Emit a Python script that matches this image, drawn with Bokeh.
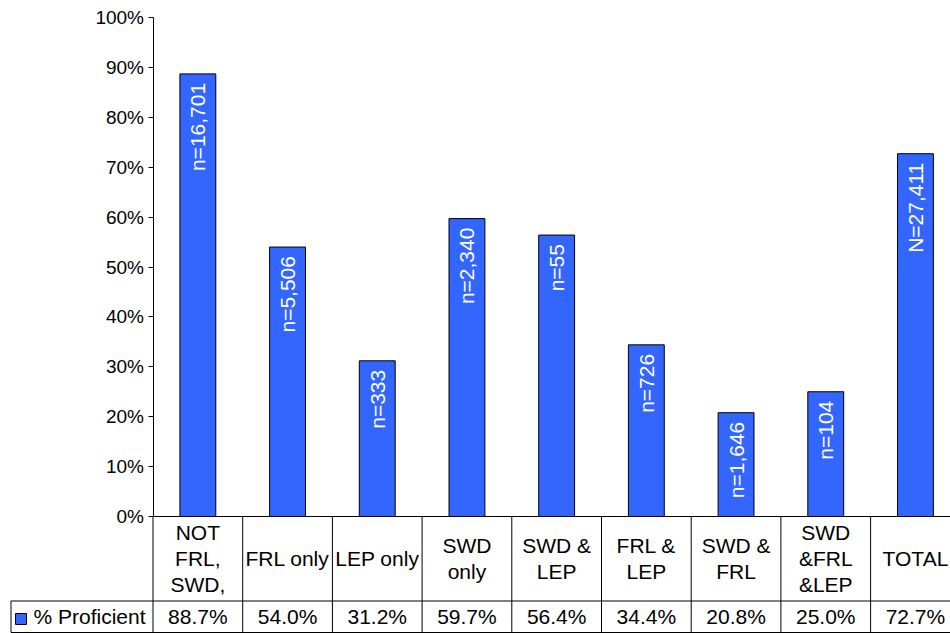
import math
from bokeh.plotting import figure
from bokeh.models import Range1d, LinearAxis, FixedTicker, PrintfTickFormatter, ColumnDataSource
from bokeh.core.properties import value
from bokeh.embed import file_html
from bokeh.resources import INLINE

# ---- data ----
categories = ["NOT\nFRL,\nSWD,", "FRL only", "LEP only", "SWD\nonly", "SWD &\nLEP",
              "FRL &\nLEP", "SWD &\nFRL", "SWD\n&FRL\n&LEP", "TOTAL"]
pct_proficient = [88.7, 54.0, 31.2, 59.7, 56.4, 34.4, 20.8, 25.0, 72.7]
n_labels = ["n=16,701", "n=5,506", "n=333", "n=2,340", "n=55", "n=726",
            "n=1,646", "n=104", "N=27,411"]
series_name = "% Proficient"
y_ticks = [0, 10, 20, 30, 40, 50, 60, 70, 80, 90, 100]

# ---- layout constants ----
W, H = 950, 633
PX_X = 89.7          # px per category
PX_Y = 4.99          # px per percent
AXIS_PX = 152.5      # axis position from figure left
ZERO_PX = 516        # zero line from figure top

x0 = -AXIS_PX / PX_X
x1 = (W - AXIS_PX) / PX_X
y1 = ZERO_PX / PX_Y
y0 = -(H - ZERO_PX) / PX_Y

y_row = -(600.5 - ZERO_PX) / PX_Y
y_bot = -(632 - ZERO_PX) / PX_Y
x_leg = (10.5 - AXIS_PX) / PX_X

FONT = value("Liberation Sans")
BAR_COLOR = "#3366FF"

p = figure(width=W, height=H, output_backend="svg", toolbar_location=None,
           x_axis_type=None, y_axis_type=None,
           x_range=Range1d(x0, x1), y_range=Range1d(y0, y1),
           min_border=0, min_border_left=0, min_border_right=0,
           min_border_top=0, min_border_bottom=0)
p.outline_line_color = None
p.xgrid.visible = False
p.ygrid.visible = False
p.background_fill_color = "white"
p.border_fill_color = "white"

n = len(categories)
xs = [i + 0.5 for i in range(n)]

src = ColumnDataSource(dict(x=xs, top=pct_proficient, lab=n_labels, cat=categories,
                            val=[f"{v:.1f}%" for v in pct_proficient]))

p.vbar(x="x", top="top", bottom=0, width=0.4, source=src,
       fill_color=BAR_COLOR, line_color="black", line_width=1)

# bar inner labels
p.text(x="x", y="top", text="lab", source=src, angle=math.pi / 2,
       text_align="right", text_baseline="middle", y_offset=9,
       text_color="white", text_font=FONT, text_font_size="21px")

# y axis
yaxis = LinearAxis(fixed_location=0, bounds=(0, 100),
                   ticker=FixedTicker(ticks=y_ticks),
                   formatter=PrintfTickFormatter(format="%d%%"))
yaxis.axis_line_color = "black"
yaxis.major_tick_line_color = "black"
yaxis.major_tick_out = 5
yaxis.major_tick_in = 0
yaxis.minor_tick_line_color = None
yaxis.major_label_standoff = 4
yaxis.major_label_text_font = "Liberation Sans"
yaxis.major_label_text_font_size = "19px"
yaxis.major_label_text_color = "black"
p.add_layout(yaxis, "left")

# data table grid lines
seg_x0 = [0, x_leg, x_leg, 0, x_leg] + [float(i) for i in range(1, n)]
seg_x1 = [x1 + 1, x1 + 1, x1 + 1, 0, x_leg] + [float(i) for i in range(1, n)]
seg_y0 = [0, y_row, y_bot, 0, y_row] + [0] * (n - 1)
seg_y1 = [0, y_row, y_bot, y_bot, y_bot] + [y_bot] * (n - 1)
p.segment(x0=seg_x0, y0=seg_y0, x1=seg_x1, y1=seg_y1, line_color="black", line_width=1)

# category labels
p.text(x="x", y=y_row / 2, text="cat", source=src, text_align="center",
       text_baseline="middle", text_font=FONT, text_font_size="21px",
       text_color="black", text_line_height=1.13)
# values row
y_val = (y_row + y_bot) / 2
p.text(x="x", y=y_val, text="val", source=src, text_align="center",
       text_baseline="middle", text_font=FONT, text_font_size="21px", text_color="black")

# legend key + series name
p.scatter(x=[(20.5 - AXIS_PX) / PX_X], y=[-(618.5 - ZERO_PX) / PX_Y], marker="square", size=11,
          fill_color=BAR_COLOR, line_color="black", line_width=1)
p.text(x=[(33 - AXIS_PX) / PX_X], y=[y_val], text=[series_name], text_align="left",
       text_baseline="middle", text_font=FONT, text_font_size="21px", text_color="black")

open("out.html", "w").write(file_html(p, INLINE))
